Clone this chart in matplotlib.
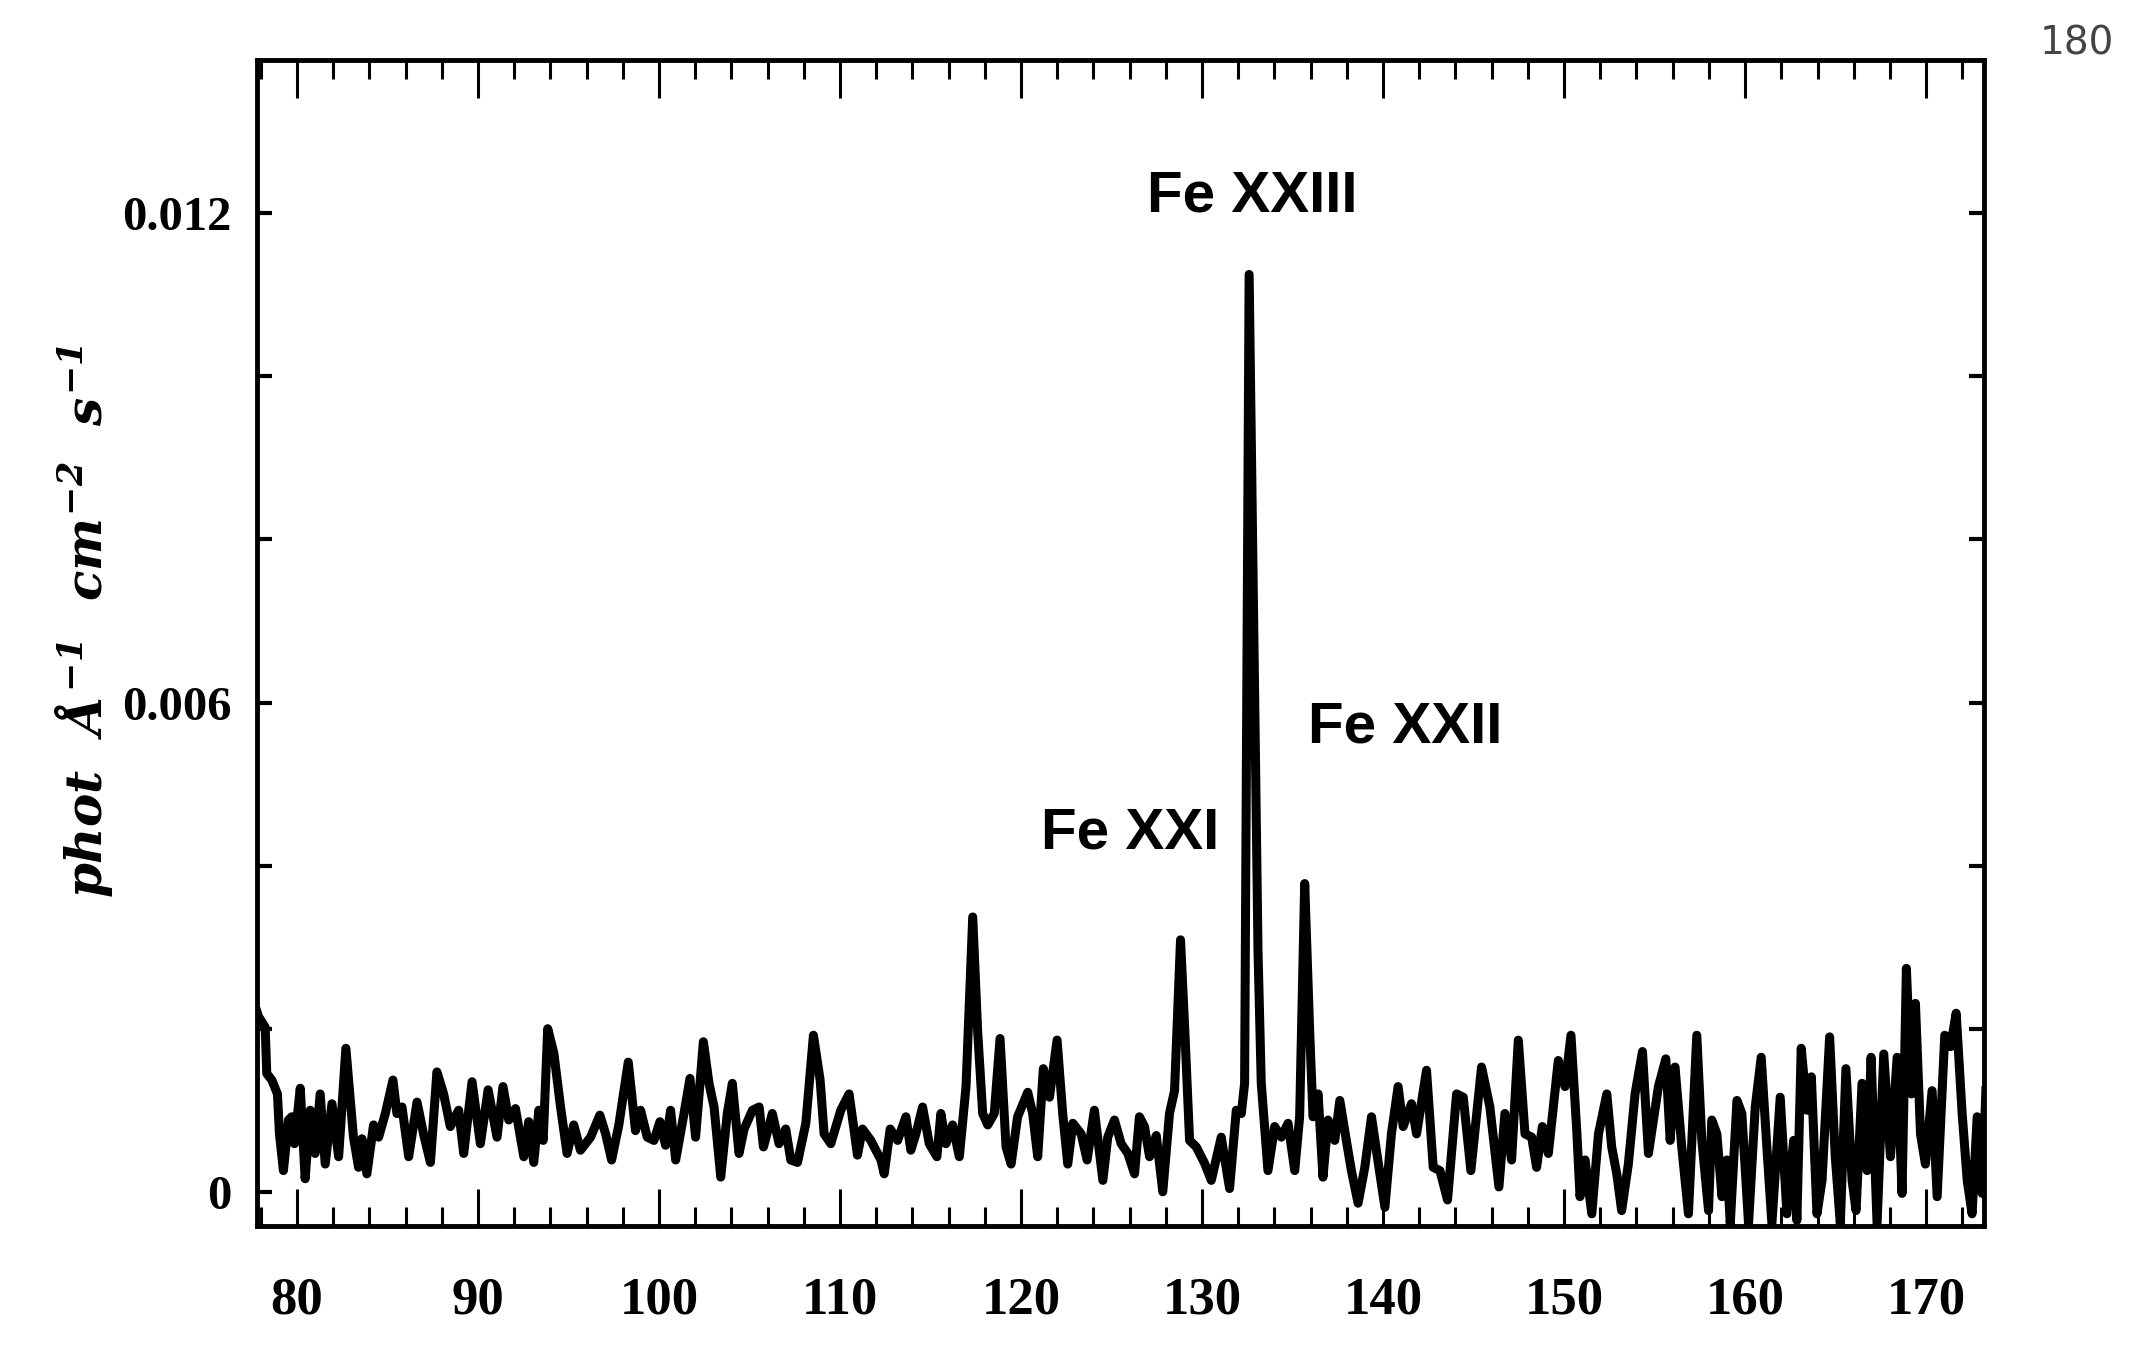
import numpy as np
import matplotlib
matplotlib.use('Agg')
import matplotlib.pyplot as plt
from matplotlib.ticker import MultipleLocator, FixedLocator

wavelength = [
    77.80, 77.87, 78.24, 78.33, 78.61, 78.92, 79.03, 79.25, 79.53, 79.71, 79.86,
    80.18, 80.45, 80.73, 81.00, 81.28, 81.56, 81.93, 82.30, 82.70, 83.12, 83.40,
    83.59, 83.86, 84.23, 84.51, 84.88, 85.30, 85.52, 85.80, 86.17, 86.63, 86.99,
    87.37, 87.73, 88.10, 88.47, 88.93, 89.21, 89.67, 90.13, 90.56, 91.05, 91.38,
    91.70, 92.07, 92.53, 92.80, 93.08, 93.36, 93.60, 93.85, 94.19, 94.56, 94.92,
    95.29, 95.66, 96.22, 96.73, 97.05, 97.38, 97.78, 98.30, 98.70, 98.98, 99.35,
    99.72, 100.05, 100.36, 100.64, 100.92, 101.38, 101.71, 102.02, 102.45, 102.76,
    103.04, 103.41, 103.77, 104.05, 104.42, 104.70, 105.16, 105.53, 105.77, 106.26,
    106.63, 107.00, 107.28, 107.65, 108.11, 108.53, 108.90, 109.12, 109.49, 110.04,
    110.50, 110.78, 110.96, 111.24, 111.70, 112.26, 112.44, 112.77, 113.18, 113.64,
    113.91, 114.19, 114.56, 114.93, 115.35, 115.57, 115.85, 116.22, 116.59, 116.96,
    117.33, 117.60, 117.88, 118.16, 118.52, 118.84, 119.17, 119.45, 119.81, 120.37,
    120.64, 120.92, 121.23, 121.57, 121.99, 122.30, 122.58, 122.86, 123.32, 123.65,
    124.05, 124.52, 124.79, 125.16, 125.53, 125.90, 126.27, 126.54, 126.82, 127.10,
    127.47, 127.83, 128.20, 128.48, 128.81, 129.03, 129.31, 129.68, 130.14, 130.51,
    131.06, 131.52, 131.89, 132.17, 132.35, 132.60, 133.09, 133.27, 133.64, 134.01,
    134.38, 134.75, 135.12, 135.39, 135.67, 135.95, 136.13, 136.41, 136.68, 136.96,
    137.33, 137.61, 137.97, 138.25, 138.62, 138.99, 139.36, 139.63, 140.10, 140.46,
    140.83, 141.11, 141.57, 141.85, 142.40, 142.77, 143.14, 143.56, 144.06, 144.43,
    144.85, 145.44, 145.90, 146.40, 146.73, 147.10, 147.47, 147.84, 148.21, 148.48,
    148.80, 149.13, 149.68, 150.05, 150.38, 150.70, 150.88, 151.16, 151.53, 151.90,
    152.36, 152.63, 152.91, 153.18, 153.55, 153.92, 154.33, 154.66, 155.21, 155.62,
    155.86, 156.13, 156.50, 156.87, 157.33, 157.61, 157.98, 158.16, 158.44, 158.72,
    158.99, 159.18, 159.55, 159.82, 160.19, 160.56, 160.89, 161.20, 161.48, 161.94,
    162.31, 162.68, 162.86, 163.10, 163.42, 163.66, 163.97, 164.25, 164.67, 164.98,
    165.26, 165.57, 165.91, 166.13, 166.46, 166.74, 166.96, 167.29, 167.66, 168.03,
    168.40, 168.67, 168.91, 169.19, 169.41, 169.69, 169.96, 170.33, 170.61, 171.03,
    171.35, 171.66, 171.99, 172.27, 172.54, 172.82, 173.10, 173.30,
]
flux_e3 = [
    2.20, 2.15, 2.02, 1.45, 1.37, 1.20, 0.71, 0.26, 0.88, 0.92, 0.59,
    1.27, 0.16, 1.00, 0.47, 1.20, 0.34, 1.08, 0.43, 1.76, 0.67, 0.30,
    0.65, 0.22, 0.82, 0.67, 0.96, 1.37, 0.96, 1.04, 0.43, 1.10, 0.71,
    0.36, 1.47, 1.20, 0.80, 1.00, 0.47, 1.35, 0.59, 1.25, 0.67, 1.29,
    0.88, 1.02, 0.43, 0.86, 0.36, 1.00, 0.63, 2.00, 1.70, 1.04, 0.47,
    0.82, 0.51, 0.67, 0.94, 0.71, 0.39, 0.82, 1.59, 0.75, 1.00, 0.67,
    0.63, 0.86, 0.57, 1.00, 0.39, 0.96, 1.39, 0.67, 1.84, 1.33,
    1.04, 0.18, 0.96, 1.33, 0.47, 0.77, 1.00, 1.04, 0.55, 0.96,
    0.59, 0.77, 0.39, 0.36, 0.84, 1.92, 1.37, 0.71, 0.59, 1.00,
    1.20, 0.75, 0.45, 0.77, 0.63, 0.39, 0.22, 0.77, 0.63, 0.92,
    0.51, 0.71, 1.04, 0.59, 0.43, 0.96, 0.59, 0.82, 0.43, 1.29,
    3.37, 1.98, 0.96, 0.82, 0.96, 1.88, 0.55, 0.34, 0.92, 1.22,
    0.96, 0.43, 1.51, 1.16, 1.86, 0.96, 0.34, 0.84, 0.71, 0.39,
    1.00, 0.14, 0.67, 0.88, 0.59, 0.47, 0.22, 0.92, 0.80, 0.43,
    0.69, 0.00, 0.96, 1.24, 3.09, 2.06, 0.63, 0.55, 0.35, 0.14,
    0.67, 0.04, 1.00, 0.96, 1.33, 11.25, 2.96, 1.33, 0.26, 0.80,
    0.67, 0.84, 0.26, 0.92, 3.78, 1.94, 0.92, 1.20, 0.18, 0.88,
    0.63, 1.12, 0.63, 0.26, -0.14, 0.30, 0.92, 0.51, -0.19, 0.71,
    1.29, 0.80, 1.08, 0.71, 1.49, 0.30, 0.26, -0.10, 1.20, 1.16,
    0.26, 1.53, 1.04, 0.06, 0.96, 0.39, 1.86, 0.71, 0.67, 0.30,
    0.80, 0.47, 1.61, 1.29, 1.92, 0.75, -0.06, 0.39, -0.27, 0.71,
    1.20, 0.55, 0.22, -0.23, 0.34, 1.20, 1.72, 0.47, 1.29, 1.63,
    0.63, 1.53, 0.55, -0.27, 1.92, 0.63, -0.23, 0.88, 0.71, -0.06,
    0.39, -0.39, 1.12, 0.96, -0.39, 1.04, 1.65, 0.55, -0.39, 1.16,
    -0.27, 0.63, -0.35, 1.76, 1.00, 1.41, -0.27, 0.14, 1.90, 0.43,
    -0.39, 1.51, 0.14, -0.23, 1.33, 0.26, 1.65, -0.39, 1.69, 0.43,
    1.65, -0.02, 2.74, 1.20, 2.31, 0.71, 0.34, 1.24, -0.06, 1.92,
    1.78, 2.19, 0.96, 0.14, -0.27, 0.92, -0.02, 1.24,
]

y_ticks = [0, 0.006, 0.012]
y_tick_labels = ['0', '0.006', '0.012']

ion_labels = ['Fe XXI', 'Fe XXII', 'Fe XXIII']
ion_x = [126.0, 141.2, 132.8]
ion_y = [0.00439, 0.00569, 0.01221]

flux = np.array(flux_e3) * 1e-3

plt.rcParams['mathtext.fontset'] = 'custom'
plt.rcParams['mathtext.rm'] = 'DejaVu Serif:italic:bold'
plt.rcParams['mathtext.it'] = 'DejaVu Serif:italic:bold'
plt.rcParams['mathtext.bf'] = 'DejaVu Serif:italic:bold'

fig = plt.figure(figsize=(21.47, 13.6), dpi=100)
ax = fig.add_axes([0.1197, 0.0985, 0.8044, 0.8574])

ax.plot(wavelength, flux, color='black', linewidth=6.5, solid_joinstyle='round')

ax.set_xlim(77.79, 173.2)
ax.set_ylim(-0.00042, 0.01388)

for s in ax.spines.values():
    s.set_linewidth(3.5)

ax.xaxis.set_major_locator(MultipleLocator(10))
ax.xaxis.set_minor_locator(MultipleLocator(2))
ax.yaxis.set_major_locator(FixedLocator(y_ticks))
ax.yaxis.set_minor_locator(MultipleLocator(0.002))
ax.set_yticklabels(y_tick_labels)

ax.tick_params(axis='x', which='major', direction='in', length=27, width=2.2,
               top=True, bottom=True, pad=36)
ax.tick_params(axis='x', which='minor', direction='in', length=14, width=2.2,
               top=True, bottom=True)
ax.tick_params(axis='y', which='both', direction='in', length=11, width=3,
               left=True, right=True, pad=18)

for lab in ax.get_xticklabels():
    lab.set_fontfamily('Liberation Serif')
    lab.set_fontweight('bold')
    lab.set_fontsize(38)
for lab in ax.get_yticklabels():
    lab.set_fontfamily('Liberation Serif')
    lab.set_fontweight('bold')
    lab.set_fontsize(35)

fig.text(0.039, 0.543, r'$phot\ \ \AA^{-1}\ \ cm^{-2}\ \ s^{-1}$', rotation=90,
         ha='center', va='center', fontsize=36)

for name, x, y in zip(ion_labels, ion_x, ion_y):
    ax.text(x, y, name, ha='center', va='center', fontsize=42, fontweight='bold',
            family='Liberation Sans')

fig.text(0.9675, 0.968, '180', ha='center', va='center', fontsize=28,
         color='#444444', family='DejaVu Sans')

fig.savefig('out.png', dpi=100, facecolor='white')
